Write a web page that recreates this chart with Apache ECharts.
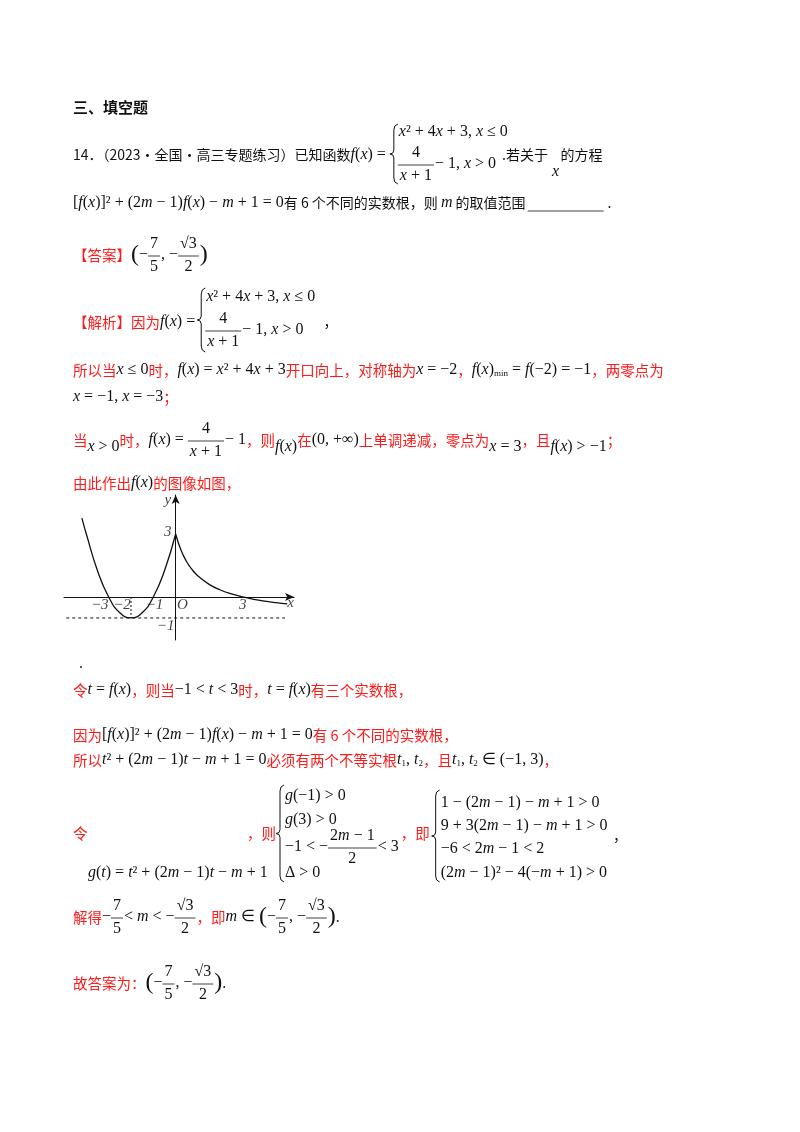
<!DOCTYPE html>
<html><head><meta charset="utf-8">
<script src="https://cdn.jsdelivr.net/npm/echarts@6/dist/echarts.min.js"></script>
<style>html,body{margin:0;padding:0;background:#fff}#c{width:800px;height:1132px}</style>
</head><body><div id="c"></div>
<script>
// graph data
const leftX = [-4.2,-4,-3.5,-3,-2.5,-2,-1.5,-1,-0.5,0];
const leftY = [3.76,3,1.25,0,-0.75,-1,-0.75,0,1.25,3];
const rightX = [0,0.25,0.5,0.75,1,1.5,2,2.5,3,3.5,4,4.5,5];
const rightY = [3,2.2,1.667,1.286,1,0.6,0.333,0.143,0,-0.111,-0.2,-0.273,-0.333];
const tickLabels = [['−3',-3.4,-0.4],['−2',-2.4,-0.4],['−1',-0.95,-0.4],['O',0.3,-0.4],['3',3,-0.4],['x',5.15,-0.3],['3',-0.35,3.1],['−1',-0.45,-1.4],['y',-0.35,4.6]];

const RED='#ff1a1a';
const FONTS={
 r:{f:'Noto Sans CJK SC',s:14.5,c:RED},
 k:{f:'Noto Sans CJK SC',s:14,c:'#111'},
 b:{f:'Noto Sans CJK SC',s:15,c:'#111',w:'bold'},
 m:{f:'Liberation Serif',s:16,c:'#111',i:1},
 n:{f:'Liberation Serif',s:16,c:'#111'},
 s:{f:'Liberation Serif',s:9,c:'#111'},
 p:{f:'Liberation Serif',s:24,c:'#111'}
};
const rich={};
for(const k in FONTS){const F=FONTS[k];rich[k]={fontFamily:F.f,fontSize:F.s,fill:F.c,fontStyle:F.i?'italic':'normal',fontWeight:F.w||'normal'};}
const ctx=document.createElement('canvas').getContext('2d');
function W(str){let w=0;str.replace(/\{(\w)\|([^}]*)\}/g,(a,k,t)=>{const F=FONTS[k];if(!F)return a;ctx.font=(F.i?'italic ':'')+(F.w?'bold ':'')+F.s+'px "'+F.f+'"';w+=ctx.measureText(t).width;return a;});return w;}
const G=[];
function L(x,y,t){G.push({type:'text',x:x,y:y,style:{text:t,rich:rich,verticalAlign:'middle',align:'left'}});}
function H(x1,x2,y){G.push({type:'line',shape:{x1:x1,y1:y,x2:x2,y2:y},style:{stroke:'#111',lineWidth:0.8}});}
function brace(x,y1,y2){const m=(y1+y2)/2;G.push({type:'polyline',shape:{points:[[x+4,y1],[x+1,y1+2],[x,y1+6],[x,m-4],[x-1,m-1],[x-4,m],[x-1,m+1],[x,m+4],[x,y2-6],[x+1,y2-2],[x+4,y2]]},style:{stroke:'#111',fill:null,lineWidth:1}});}
function flow(x,y,items){
 for(const it of items){
  if(typeof it==='string'){L(x,y,it);x+=W(it);}
  else if(it[0]==='f'){const wn=W(it[1]),wd=W(it[2]),w=Math.max(wn,wd)+4;
   L(x+(w-wn)/2,y-11,it[1]);H(x,x+w,y+1);L(x+(w-wd)/2,y+12,it[2]);x+=w+1;}
  else if(it[0]==='d'){L(x,y+it[1],it[2]);x+=W(it[2]);}
 }
 return x;
}
const FX='{m|f}{n|(}{m|x}{n|)}';
const ANS=['{p|(}{n|−}',['f','{n|7}','{n|5}'],'{n|, −}',['f','{n|√3}','{n|2}'],'{p|)}'];

L(73,107,'{b|三、填空题}');
let e=flow(73,155,['{k|14．（2023·全国·高三专题练习）已知函数}','{m|f}{n|(}{m|x}{n|) =}']);
let bx=e+8;
brace(bx,124,184);
L(bx+5,132,'{m|x}{n|² + 4}{m|x}{n| + 3, }{m|x}{n| ≤ 0}');
e=flow(bx+4,164,[['f','{n|4}','{m|x}{n| + 1}'],'{n|− 1, }{m|x}{n| > 0}']);
L(e+6,155,'{k|.若关于    的方程}');L(e+56,172,'{m|x}');
e=flow(73,203,['{n|[}'+FX+'{n|]² + (2}{m|m}{n| − 1)}'+FX+'{n| − }{m|m}{n| + 1 = 0}{k|有 6 个不同的实数根，则 }{m|m}{k| 的取值范围}']);
H(e+2,e+78,211);L(e+82,203,'{k|.}');
flow(73,255,['{r|【答案】}'].concat(ANS));

e=flow(73,322,['{r|【解析】因为}','{m|f}{n|(}{m|x}{n|) =}']);
bx=e+6;
brace(bx,288,352);
L(bx+5,297,'{m|x}{n|² + 4}{m|x}{n| + 3, }{m|x}{n| ≤ 0}');
e=flow(bx+4,330,[['f','{n|4}','{m|x}{n| + 1}'],'{n|− 1, }{m|x}{n| > 0}']);L(e+20,322,'{k|，}');
flow(73,370,['{r|所以当}{m|x}{n| ≤ 0}{r|时，}',FX+'{n| = }{m|x}{n|² + 4}{m|x}{n| + 3}{r|开口向上，对称轴为}{m|x}{n| = −2}{r|，}'+FX,['d',4,'{s|min}'],'{n| = }{m|f}{n|(−2) = −1}{r|，两零点为}']);
flow(73,397,['{m|x}{n| = −1, }{m|x}{n| = −3}{r|；}']);
flow(73,440,['{r|当}',['d',7,'{m|x}{n| > 0}'],'{r|时，}'+FX+'{n| = }',['f','{n|4}','{m|x}{n| + 1}'],'{n|− 1}{r|，则}',['d',7,FX],'{r|在}{n|(0, +∞)}{r|上单调递减，零点为}',['d',7,'{m|x}{n| = 3}'],'{r|，且}',['d',7,FX+'{n| > −1}'],'{r|；}']);
flow(73,483,['{r|由此作出}'+FX+'{r|的图像如图，}']);
L(79,663,'{k|.}');
flow(73,690,['{r|令}{m|t}{n| = }'+FX+'{r|，则当}{n|−1 < }{m|t}{n| < 3}{r|时，}{m|t}{n| = }'+FX+'{r|有三个实数根，}']);
flow(73,735,['{r|因为}{n|[}'+FX+'{n|]² + (2}{m|m}{n| − 1)}'+FX+'{n| − }{m|m}{n| + 1 = 0}{r|有 6 个不同的实数根，}']);
flow(73,760,['{r|所以}{m|t}{n|² + (2}{m|m}{n| − 1)}{m|t}{n| − }{m|m}{n| + 1 = 0}{r|必须有两个不等实根}{m|t}',['d',4,'{s|1}'],'{n|, }{m|t}',['d',4,'{s|2}'],'{r|，且}{m|t}',['d',4,'{s|1}'],'{n|, }{m|t}',['d',4,'{s|2}'],'{n| ∈ (−1, 3)}{r|，}']);
L(73,833,'{r|令}');L(88,873,'{m|g}{n|(}{m|t}{n|) = }{m|t}{n|² + (2}{m|m}{n| − 1)}{m|t}{n| − }{m|m}{n| + 1}');
L(247,833,'{r|，则}');brace(280,785,882);
L(285,796,'{m|g}{n|(−1) > 0}');L(285,820,'{m|g}{n|(3) > 0}');
e=flow(285,847,['{n|−1 < −}',['f','{n|2}{m|m}{n| − 1}','{n|2}'],'{n|< 3}']);
L(285,873,'{n|Δ > 0}');
e=flow(e+2,833,['{r|，即}']);bx=e+6;brace(bx,790,882);
L(bx+5,803,'{n|1 − (2}{m|m}{n| − 1) − }{m|m}{n| + 1 > 0}');
L(bx+5,826,'{n|9 + 3(2}{m|m}{n| − 1) − }{m|m}{n| + 1 > 0}');
L(bx+5,849,'{n|−6 < 2}{m|m}{n| − 1 < 2}');
e=flow(bx+5,873,['{n|(2}{m|m}{n| − 1)² − 4(−}{m|m}{n| + 1) > 0}']);
L(e+6,836,'{k|，}');
flow(73,917,['{r|解得}{n|−}',['f','{n|7}','{n|5}'],'{n|< }{m|m}{n| < −}',['f','{n|√3}','{n|2}'],'{r|，即}{m|m}{n| ∈ }'].concat(ANS,['{k|.}']));
flow(73,983,['{r|故答案为：}'].concat(ANS,['{k|.}']));

const zip=(a,b)=>a.map((v,i)=>[v,b[i]]);
const axisCommon={axisTick:{show:false},axisLabel:{show:false},splitLine:{show:false},axisLine:{onZero:true,symbol:['none','arrow'],symbolSize:[6,9],lineStyle:{color:'#111',width:1}}};
const opt={animation:false,
 grid:{left:64,top:495,width:230,height:145},
 xAxis:Object.assign({type:'value',min:-5,max:5.3},axisCommon),
 yAxis:Object.assign({type:'value',min:-2.05,max:4.86},axisCommon),
 series:[
  {type:'line',data:zip(leftX,leftY),smooth:true,symbol:'none',lineStyle:{color:'#111',width:1.3}},
  {type:'line',data:zip(rightX,rightY),smooth:true,symbol:'none',lineStyle:{color:'#111',width:1.3}},
  {type:'line',data:[[-4.9,-1],[4.9,-1]],symbol:'none',lineStyle:{color:'#111',width:1,type:[3,3]}},
  {type:'line',data:[[-2,0],[-2,-1]],symbol:'none',lineStyle:{color:'#111',width:1,type:[2,2]}},
  {type:'scatter',symbolSize:0,data:tickLabels.map(d=>({value:[d[1],d[2]],name:d[0]})),
   label:{show:true,position:'inside',formatter:p=>p.name,fontFamily:'Liberation Serif',fontStyle:'italic',fontSize:15,color:'#111'}}
 ],
 graphic:G};
const ch=echarts.init(document.getElementById('c'));ch.setOption(opt);
</script></body></html>
